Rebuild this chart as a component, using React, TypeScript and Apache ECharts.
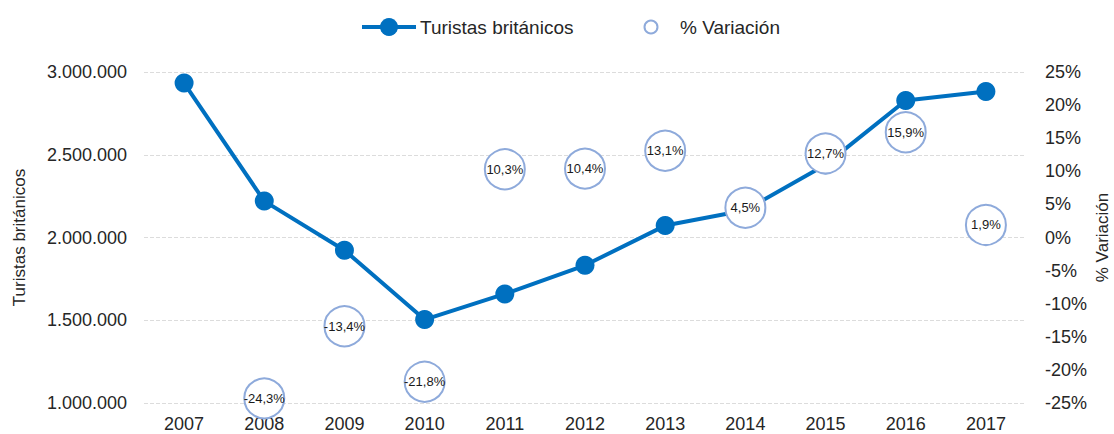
import React, { useEffect, useRef } from "react";
import * as echarts from "echarts";

const years = ["2007", "2008", "2009", "2010", "2011", "2012", "2013", "2014", "2015", "2016", "2017"];
const tourists = [2933000, 2220000, 1923000, 1504000, 1659000, 1832000, 2072000, 2165000, 2440000, 2828000, 2882000];
const variation = [null, -24.3, -13.4, -21.8, 10.3, 10.4, 13.1, 4.5, 12.7, 15.9, 1.9];
const seriesNames = ["Turistas británicos", "% Variación"];

const FONT = "'Liberation Sans', Arial, sans-serif";
const TEXT = "#262626";
const BLUE = "#0070c0";
const BUBBLE = "#8eaadb";

function fmtThousands(v: number): string {
  return String(Math.round(v)).replace(/\B(?=(\d{3})+(?!\d))/g, ".");
}

export default function App() {
  const ref = useRef<HTMLDivElement>(null);
  useEffect(() => {
    document.body.style.margin = "0";
    if (!ref.current) return;
    const chart = echarts.init(ref.current, null, { renderer: "svg" });
    chart.setOption({
      animation: false,
      textStyle: { fontFamily: FONT },
      graphic: [
        { type: "line", shape: { x1: 362, y1: 27, x2: 416, y2: 27 }, style: { stroke: BLUE, lineWidth: 4 } },
        { type: "circle", shape: { cx: 389, cy: 27, r: 9 }, style: { fill: BLUE } },
        {
          type: "text",
          x: 420,
          y: 27,
          style: { text: seriesNames[0], fill: TEXT, font: `19px ${FONT}`, verticalAlign: "middle", align: "left" },
        },
        { type: "circle", shape: { cx: 651, cy: 27, r: 6.5 }, style: { fill: "#fff", stroke: BUBBLE, lineWidth: 2 } },
        {
          type: "text",
          x: 680,
          y: 27,
          style: { text: seriesNames[1], fill: TEXT, font: `19px ${FONT}`, verticalAlign: "middle", align: "left" },
        },
      ],
      grid: { left: 144, right: 88, top: 72, bottom: 31, outerBoundsMode: "none", containLabel: false },
      xAxis: {
        type: "category",
        data: years,
        boundaryGap: true,
        axisLine: { show: false },
        axisTick: { show: false },
        axisLabel: { fontSize: 18, color: TEXT, margin: 12, fontFamily: FONT },
      },
      yAxis: [
        {
          type: "value",
          min: 1000000,
          max: 3000000,
          interval: 500000,
          name: seriesNames[0],
          nameLocation: "middle",
          nameGap: 116,
          nameTextStyle: { fontSize: 17, color: TEXT, fontFamily: FONT },
          axisLine: { show: false },
          axisTick: { show: false },
          axisLabel: { fontSize: 18, color: TEXT, margin: 17, formatter: (v: number) => fmtThousands(v), fontFamily: FONT },
          splitLine: { lineStyle: { color: "#dcdcdc", type: "dashed", width: 1 } },
        },
        {
          type: "value",
          min: -25,
          max: 25,
          interval: 5,
          position: "right",
          name: seriesNames[1],
          nameLocation: "middle",
          nameGap: 68,
          nameMoveOverlap: false,
          nameTextStyle: { fontSize: 17, color: TEXT, fontFamily: FONT },
          axisLine: { show: false },
          axisTick: { show: false },
          axisLabel: { fontSize: 18, color: TEXT, margin: 19, formatter: (v: number) => v + "%", fontFamily: FONT },
          splitLine: { show: false },
        },
      ],
      series: [
        {
          name: seriesNames[0],
          type: "line",
          yAxisIndex: 0,
          data: tourists,
          symbol: "circle",
          symbolSize: 19,
          itemStyle: { color: BLUE },
          lineStyle: { color: BLUE, width: 4 },
          emphasis: { disabled: true },
          z: 2,
        },
        {
          name: seriesNames[1],
          type: "scatter",
          yAxisIndex: 1,
          data: variation,
          symbol: "circle",
          symbolSize: 40,
          itemStyle: { color: "#ffffff", borderColor: BUBBLE, borderWidth: 2, opacity: 1 },
          label: {
            show: true,
            position: "inside",
            fontSize: 13,
            color: "#1a1a1a",
            fontFamily: FONT,
            formatter: (p: any) => String(p.value).replace(".", ",") + "%",
          },
          emphasis: { disabled: true },
          z: 3,
        },
      ],
    });
    return () => chart.dispose();
  }, []);
  return <div ref={ref} style={{ width: 1114, height: 434 }} />;
}
